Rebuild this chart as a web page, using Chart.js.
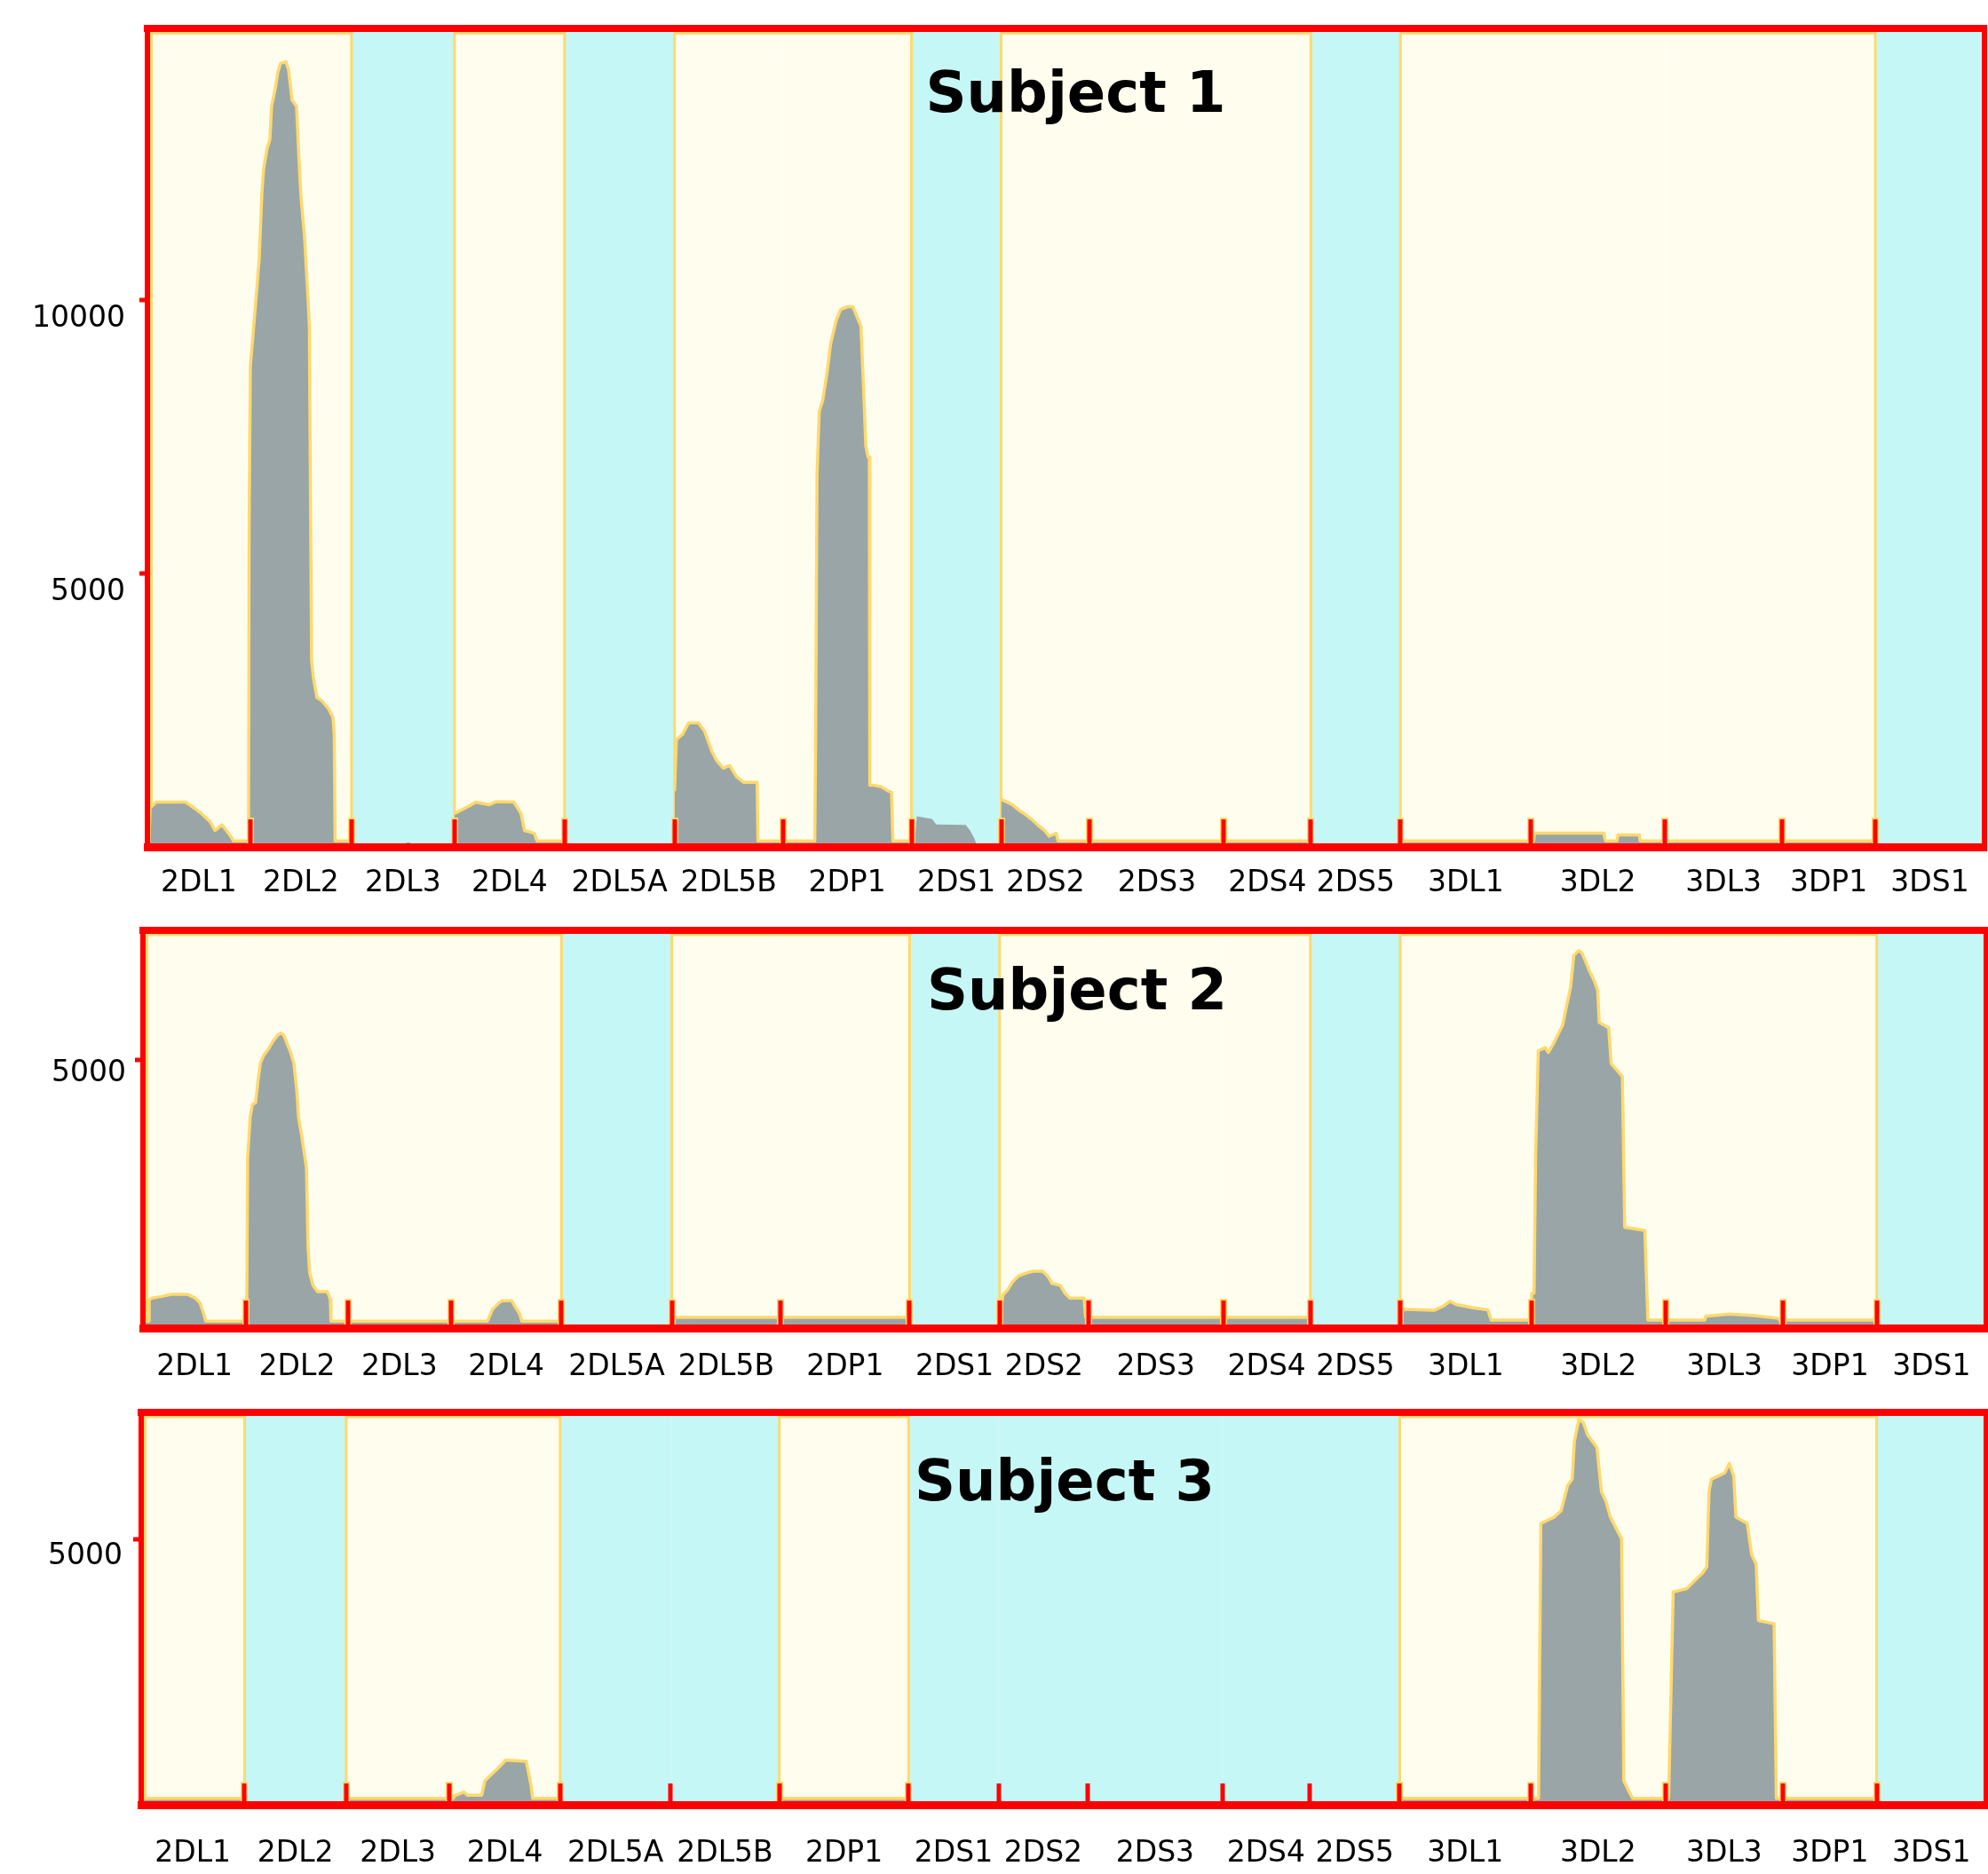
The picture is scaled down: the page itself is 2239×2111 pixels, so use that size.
<!DOCTYPE html>
<html>
<head>
<meta charset="utf-8">
<title>KIR locus signal profiles</title>
<script src="https://cdn.jsdelivr.net/npm/chart.js@4/dist/chart.umd.min.js"></script>
<style>
  html, body { margin: 0; padding: 0; background: #ffffff; }
  body { width: 2239px; height: 2111px; position: relative; overflow: hidden; }
  canvas.panel { position: absolute; left: 0; }
</style>
</head>
<body>
<canvas id="subject1" class="panel" width="2239" height="1040" style="top:0px"></canvas>
<canvas id="subject2" class="panel" width="2239" height="530" style="top:1040px"></canvas>
<canvas id="subject3" class="panel" width="2239" height="541" style="top:1570px"></canvas>
<script>
// KIR loci along the probe axis, and the bin where each locus starts/ends
const genes = ['2DL1','2DL2','2DL3','2DL4','2DL5A','2DL5B','2DP1','2DS1','2DS2','2DS3','2DS4','2DS5','3DL1','3DL2','3DL3','3DP1','3DS1'];
const geneBounds = [0,116,230,346,470,594,716,861,962,1062,1213,1311,1412,1559,1710,1842,1947,2070];

// locus called present (1) / absent (0) per subject
const present1 = [1,1,0,1,0,1,1,0,1,1,1,0,1,1,1,1,0];
const present2 = [1,1,1,1,0,1,1,0,1,1,1,0,1,1,1,1,0];
const present3 = [1,0,1,1,0,0,1,0,0,0,0,0,1,1,1,1,0];

// intensity axis ticks and ranges
const yTicks1 = [5000, 10000];
const yTicks2 = [5000];
const yTicks3 = [5000];
const yMax1 = 14970;
const yMax2 = 7425;
const yMax3 = 7400;

const titles = ['Subject 1', 'Subject 2', 'Subject 3'];

// Subject 1 signal profile: bin position / intensity
const bin1 = [0,2,3,10,43,53,61,71,76,84,89,94,97,
  114,114.6,116,123,126,129,131,135,138,140,144,147,150,156,159,163,168,171,173,177,181,182.5,183.5,185,187,191,196,204,209,210.5,211.5,230,
  230.5,290,292,296,297,345.5,
  346,365,370,385,393,413,421,425,436,439,470,
  470.5,593.5,
  594,596,603,610,621,628,636,641,649,656,664,672,687,688,
  752,753,754.5,757,761,766,770,776,781,789,795,799,804,807,809.5,812,813.5,814,817,827,835,838.5,840,861,
  861.5,864,867,884,889,922,927,932,935,961.5,
  962,975,983,988,996,1003,1011,1016,1024,1026,1311,
  1311.5,1411.5,
  1412,1562,1563,1641,1643,1656,1657,1681,1682,1947,
  1947.5,2070];
const sig1 = [110,110,710,820,820,710,610,455,300,405,300,190,110,
  110,5790,8790,10140,10760,11950,12410,12780,12930,13550,13860,14170,14330,14360,14220,13660,13550,12520,11900,11170,10030,9520,7030,3410,3100,2730,2680,2530,2370,2060,110,110,
  0,0,80,80,0,0,
  610,770,820,770,830,820,610,300,250,110,110,
  0,0,
  1020,1960,2060,2270,2270,2110,1750,1590,1440,1490,1280,1180,1180,110,
  110,1960,6770,7960,8170,8690,9210,9620,9830,9880,9880,9720,9520,8380,7340,7130,7130,1130,1130,1100,1020,1000,110,110,
  0,0,560,510,410,400,300,150,0,0,
  870,770,660,610,510,405,300,195,250,110,110,
  0,0,
  110,110,250,250,110,110,220,220,110,110,
  0,0];

// Subject 2 signal profile
const bin2 = [0,6.9,7,10.4,21,32,49.7,58.6,64,68.3,70.4,
  116.5,117.5,120.4,122.9,126.5,129,131.9,135.4,140.8,146.1,151.5,155.1,158.6,162.2,165.8,169.4,172.9,174.7,178.3,183.6,185.4,187.2,190.8,196.1,206.9,208.6,210.4,211.1,
  387,392.6,399.7,403.3,414,417.6,423,425.4,470,
  470.5,593.5,
  594,861,
  861.5,961.5,
  962,965.8,971,976.5,983.6,992.6,999.7,1010.4,1015.8,1021,1030,1035.4,1040.8,1056.9,1058.6,1311,
  1311.5,1411.5,
  1412,1414,1449.7,1460.4,1467.6,1474.7,1492.6,1510.4,1514,
  1558.7,1559.7,1562.2,1564,1566.9,1574.7,1578.3,1583.6,1589,1594.4,1597.9,1603.3,1606.9,1612.2,1615.8,1619.4,1624.7,1630,1633.6,1635.4,1646,1648.8,1661.4,1664,1686.6,1690,
  1754,1755,1782,1810,1837,1838,1947,
  1947.5,2070];
const sig2 = [130,130,530,560,590,630,630,560,470,265,130,
  130,3160,3930,4170,4200,4580,4940,5080,5200,5350,5470,5500,5450,5290,5140,4940,4400,3930,3580,2990,1510,1030,800,680,680,620,530,130,
  130,350,470,510,510,410,265,130,130,
  0,0,
  200,200,
  0,0,
  200,620,710,860,975,1030,1060,1060,975,830,800,650,560,560,200,200,
  0,0,
  150,350,330,410,500,440,380,340,150,
  150,650,650,3220,5170,5230,5140,5290,5470,5650,5940,6360,6950,7040,7000,6860,6650,6470,6300,5700,5600,4930,4690,1880,1820,150,
  150,220,260,230,180,150,150,
  0,0];

// Subject 3 signal profile
const bin3 = [0,116,
  116.5,229.5,
  230,350,350.5,362,366,382,385.6,392.8,401.7,408.9,432,437.4,439.2,470,
  470.5,715.5,
  716,861,
  861.5,1411.5,
  1412,1567.8,1570.3,1577.9,1585.4,1593,1600.5,1605.5,1608,1613,1618,1623,1633.2,1638.3,1643.3,1648.3,1660.9,1663.4,1668.5,1673.5,
  1713.7,1718.8,1733.9,1744,1751.5,1756.5,1759,1761.6,1769,1776.6,1781.7,1786.7,1789.2,1801.8,1806.8,1811.9,1814.4,1832,1834.5,1947,
  1947.5,2070];
const sig3 = [120,120,
  0,0,
  120,120,160,240,180,180,450,570,710,840,820,360,120,120,
  0,0,
  120,120,
  0,0,
  120,120,5300,5360,5420,5540,6020,6130,6850,7260,7200,6960,6730,5900,5720,5420,5010,450,270,120,
  120,4010,4070,4240,4360,4480,5900,6130,6190,6250,6430,6190,5420,5300,4710,4530,3470,3410,120,120,
  0,0];

const COLORS = {
  present: '#FFFEEE',
  absent: '#C5F7F6',
  edge: '#FFD96E',
  frame: '#FF0000',
  fill: '#9AA5A8',
  text: '#000000'
};
const FONT = 'DejaVu Sans';

Chart.defaults.font.family = FONT;

function locusAt(x) {
  for (let i = 0; i < genes.length; i++) {
    if (x < geneBounds[i + 1]) return i;
  }
  return genes.length - 1;
}

// background shading per locus, outlines around present runs, boundary ticks and the title
const locusPlugin = {
  id: 'locus',
  beforeDatasetsDraw(chart) {
    const { ctx, chartArea: a, scales: { x } } = chart;
    const o = chart.options.plugins.locus;
    const pres = o.present;
    ctx.save();
    for (let i = 0; i < genes.length; i++) {
      const x0 = x.getPixelForValue(geneBounds[i]);
      const x1 = x.getPixelForValue(geneBounds[i + 1]);
      ctx.fillStyle = pres[i] ? COLORS.present : COLORS.absent;
      ctx.fillRect(x0, a.top, x1 - x0, a.bottom - a.top);
    }
    ctx.strokeStyle = COLORS.edge;
    ctx.lineWidth = 3;
    ctx.lineJoin = 'miter';
    let i = 0;
    while (i < genes.length) {
      if (!pres[i]) { i++; continue; }
      let j = i;
      while (j + 1 < genes.length && pres[j + 1]) j++;
      let xl = x.getPixelForValue(geneBounds[i]);
      let xr = x.getPixelForValue(geneBounds[j + 1]);
      if (i === 0) xl = a.left + 4.5;
      if (j === genes.length - 1) xr = a.right - 4.5;
      const yt = a.top + 5.5;
      ctx.beginPath();
      ctx.moveTo(xl, a.bottom);
      ctx.lineTo(xl, yt);
      ctx.lineTo(xr, yt);
      ctx.lineTo(xr, a.bottom);
      ctx.stroke();
      i = j + 1;
    }
    ctx.restore();
  },
  afterDatasetsDraw(chart) {
    const { ctx, chartArea: a, scales: { x } } = chart;
    const o = chart.options.plugins.locus;
    ctx.save();
    ctx.lineCap = 'butt';
    for (let i = 1; i < genes.length; i++) {
      const px = Math.round(x.getPixelForValue(geneBounds[i]));
      if (o.present[i - 1] || o.present[i]) {
        ctx.strokeStyle = COLORS.edge;
        ctx.lineWidth = 8;
        ctx.beginPath();
        ctx.moveTo(px, a.bottom);
        ctx.lineTo(px, a.bottom - o.tick - 2);
        ctx.stroke();
      }
      ctx.strokeStyle = COLORS.frame;
      ctx.lineWidth = 5;
      ctx.beginPath();
      ctx.moveTo(px, a.bottom);
      ctx.lineTo(px, a.bottom - o.tick);
      ctx.stroke();
    }
    ctx.restore();
  },
  afterDraw(chart) {
    const { ctx, chartArea: a } = chart;
    const o = chart.options.plugins.locus;
    ctx.save();
    ctx.font = 'bold 64px "' + FONT + '"';
    ctx.fillStyle = COLORS.text;
    ctx.textAlign = 'center';
    ctx.textBaseline = 'alphabetic';
    ctx.fillText(o.title, (a.left + a.right) / 2 + o.titleDx, a.top + o.titleDy);
    ctx.restore();
  }
};

function makePanel(canvasId, cfg) {
  const points = cfg.bins.map((b, k) => ({ x: b, y: cfg.signal[k] }));
  const pres = cfg.present;
  const canvas = document.getElementById(canvasId);
  return new Chart(canvas, {
    type: 'line',
    data: {
      datasets: [{
        data: points,
        fill: 'origin',
        backgroundColor: COLORS.fill,
        borderColor: COLORS.edge,
        borderWidth: 3.5,
        borderJoinStyle: 'round',
        pointRadius: 0,
        tension: 0,
        segment: {
          borderColor: (c) => pres[locusAt((c.p0.parsed.x + c.p1.parsed.x) / 2)] ? COLORS.edge : 'rgba(0,0,0,0)'
        }
      }]
    },
    options: {
      responsive: false,
      animation: false,
      devicePixelRatio: 1,
      events: [],
      layout: { padding: { top: cfg.padTop, left: 0, right: cfg.padRight, bottom: 0 } },
      plugins: {
        legend: { display: false },
        tooltip: { enabled: false },
        title: { display: false },
        locus: {
          present: pres,
          tick: cfg.tick,
          title: cfg.title,
          titleDx: cfg.titleDx,
          titleDy: cfg.titleDy
        }
      },
      scales: {
        x: {
          type: 'linear',
          position: 'bottom',
          min: geneBounds[0],
          max: geneBounds[geneBounds.length - 1],
          grid: { display: false, drawTicks: false, lineWidth: 6 },
          border: { display: true, color: COLORS.frame, width: 9, z: 1 },
          ticks: {
            autoSkip: false,
            maxRotation: 0,
            minRotation: 0,
            padding: cfg.labelPad,
            color: COLORS.text,
            font: { family: FONT, size: 33 },
            callback: (v, i) => genes[i]
          },
          afterBuildTicks: (s) => {
            s.ticks = genes.map((g, i) => ({ value: (geneBounds[i] + geneBounds[i + 1]) / 2 }));
          },
          afterFit: (s) => {
            s.height = cfg.xAxisH;
            s.paddingLeft = 0;
            s.paddingRight = 0;
          }
        },
        x2: {
          type: 'linear',
          position: 'top',
          display: true,
          grid: { display: false, drawTicks: false, lineWidth: 6 },
          border: { display: true, color: COLORS.frame, width: 8, z: 1 },
          ticks: { display: false },
          afterFit: (s) => {
            s.height = 0;
            s.paddingLeft = 0;
            s.paddingRight = 0;
          }
        },
        y: {
          type: 'linear',
          position: 'left',
          min: 0,
          max: cfg.yMax,
          grid: {
            display: true,
            drawOnChartArea: false,
            drawTicks: true,
            tickLength: 9,
            tickWidth: 5,
            tickColor: COLORS.frame,
            color: COLORS.frame,
            lineWidth: 8
          },
          border: { display: true, color: COLORS.frame, width: 6, z: 1 },
          ticks: {
            padding: cfg.yLabelPad,
            labelOffset: cfg.yLabelOffset,
            color: COLORS.text,
            font: { family: FONT, size: 33 },
            callback: (v) => String(v)
          },
          afterBuildTicks: (s) => {
            s.ticks = cfg.yTicks.map((v) => ({ value: v }));
          },
          afterFit: (s) => {
            s.width = cfg.yAxisW;
            s.paddingTop = 0;
            s.paddingBottom = 0;
          }
        },
        y2: {
          type: 'linear',
          position: 'right',
          display: true,
          grid: { display: false, drawTicks: false, lineWidth: 8 },
          border: { display: true, color: COLORS.frame, width: 6, z: 1 },
          ticks: { display: false },
          afterFit: (s) => {
            s.width = 0;
            s.paddingTop = 0;
            s.paddingBottom = 0;
          }
        }
      }
    },
    plugins: [locusPlugin]
  });
}

makePanel('subject1', {
  bins: bin1, signal: sig1, present: present1, yTicks: yTicks1, yMax: yMax1, title: titles[0],
  padTop: 32, padRight: 4, yAxisW: 166, xAxisH: 86,
  tick: 31, labelPad: 22, yLabelPad: 16, yLabelOffset: 21, titleDx: 11, titleDy: 94
});
makePanel('subject2', {
  bins: bin2, signal: sig2, present: present2, yTicks: yTicks2, yMax: yMax2, title: titles[1],
  padTop: 7.5, padRight: 2, yAxisW: 161, xAxisH: 74,
  tick: 31, labelPad: 25, yLabelPad: 10, yLabelOffset: 15, titleDx: 14, titleDy: 89.5
});
makePanel('subject3', {
  bins: bin3, signal: sig3, present: present3, yTicks: yTicks3, yMax: yMax3, title: titles[2],
  padTop: 20.5, padRight: 2, yAxisW: 159, xAxisH: 78,
  tick: 24, labelPad: 36, yLabelPad: 12, yLabelOffset: 19, titleDx: 1, titleDy: 99.5
});
</script>
</body>
</html>
